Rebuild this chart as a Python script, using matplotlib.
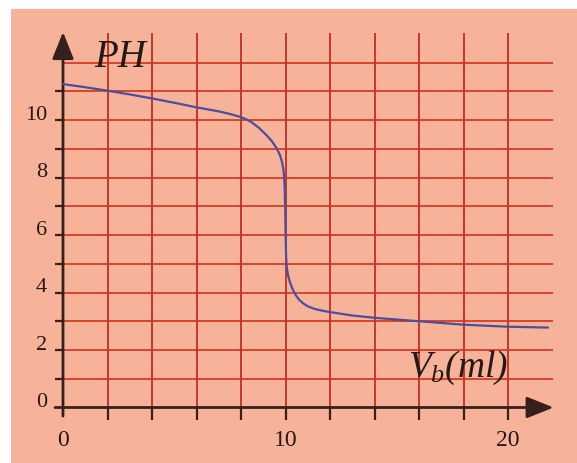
import matplotlib
matplotlib.use('Agg')
import matplotlib.pyplot as plt

# ============================================================
# 1. DATA
# ============================================================

vb_ml = [0, 1, 2, 3, 4, 5, 6, 7, 7.5, 8, 8.25, 8.5, 8.8, 9.15, 9.4, 9.6,
         9.75, 9.85, 9.92, 9.96, 9.99, 10.01, 10.03, 10.06, 10.12, 10.2,
         10.3, 10.45, 10.6, 10.8, 11.0, 11.3, 11.7, 12, 13, 14, 15, 16,
         18, 20, 21.8]
ph = [11.25, 11.14, 11.02, 10.89, 10.75, 10.6, 10.44, 10.3, 10.21, 10.1,
      10.02, 9.91, 9.73, 9.47, 9.25, 9.02, 8.78, 8.52, 8.2, 7.7, 6.8,
      5.8, 5.2, 4.85, 4.58, 4.36, 4.15, 3.92, 3.76, 3.62, 3.52, 3.43,
      3.36, 3.32, 3.2, 3.12, 3.06, 3.0, 2.88, 2.81, 2.78]

x_ticks = [0, 10, 20]
y_ticks = [0, 2, 4, 6, 8, 10]
x_grid = list(range(2, 21, 2))
y_grid = list(range(1, 13))
x_small_ticks = list(range(2, 21, 2))
y_small_ticks = list(range(1, 12))

# ============================================================
# 2. FIGURE / PAPER
# ============================================================

BG      = '#F7B39A'
GRID_H  = '#D8442E'
GRID_V  = '#C23827'
AXIS    = '#35201C'
CURVE   = '#4B4E9E'
TXT     = '#261816'

W, H = 577, 463
# pixel mapping of the drawing: x=0 -> 63px, y=0 -> 407.5px
X0, SX = 63.0, 22.25
Y0, SY = 407.5, 28.75
# salmon paper area in pixels
PL, PR, PT, PB = 11, 577, 9, 463

fig = plt.figure(figsize=(W / 100, H / 100), dpi=100, facecolor='white')
ax = fig.add_axes([PL / W, (H - PB) / H, (PR - PL) / W, (PB - PT) / H])
ax.set_facecolor(BG)
ax.set_xlim((PL - X0) / SX, (PR - X0) / SX)
ax.set_ylim((Y0 - PB) / SY, (Y0 - PT) / SY)
for s in ax.spines.values():
    s.set_visible(False)
ax.set_xticks([])
ax.set_yticks([])

plt.rcParams['mathtext.fontset'] = 'custom'
plt.rcParams['mathtext.it'] = 'Liberation Serif:italic'
plt.rcParams['mathtext.rm'] = 'Liberation Serif:italic'

# ============================================================
# 3. GRID
# ============================================================

ax.hlines(y_grid, 0, 22.02, colors=GRID_H, lw=1.4, zorder=1)
ax.vlines(x_grid, 0, 13.03, colors=GRID_V, lw=1.4, zorder=1)

# small ticks outside the axes
ax.vlines(x_small_ticks, -0.42, 0, colors=AXIS, lw=1.6, zorder=3)
ax.hlines(y_small_ticks, -0.36, 0, colors=AXIS, lw=1.6, zorder=3)

# ============================================================
# 4. AXES WITH ARROWS
# ============================================================

arrow = dict(arrowstyle='-|>,head_length=0.55,head_width=0.22',
             mutation_scale=30, lw=2.0, color=AXIS,
             shrinkA=0, shrinkB=0)
ax.annotate('', xy=(22.05, 0), xytext=(-0.36, 0), arrowprops=arrow, zorder=4)
ax.annotate('', xy=(0, 13.06), xytext=(0, -0.3), arrowprops=arrow, zorder=4)

# ============================================================
# 5. CURVE + LABELS
# ============================================================

ax.plot(vb_ml, ph, color=CURVE, lw=1.6, solid_joinstyle='round',
        solid_capstyle='round', zorder=5)

for v in y_ticks:
    ax.text(-0.72, v + 0.17, str(v), ha='right', va='center',
            fontsize=16, family='Liberation Serif', color=TXT)
for v in x_ticks:
    ax.text(v, -1.15, str(v), ha='center', va='center',
            fontsize=17, family='Liberation Serif', color=TXT)

ax.text(1.42, 11.83, 'PH', fontsize=28, family='Liberation Serif',
        style='italic', color=TXT, ha='left', va='baseline')
ax.text(15.5, 1.06, r'$V_b(ml)$', fontsize=27, color=TXT,
        ha='left', va='baseline')

fig.savefig('out.png', dpi=100, facecolor='white')
